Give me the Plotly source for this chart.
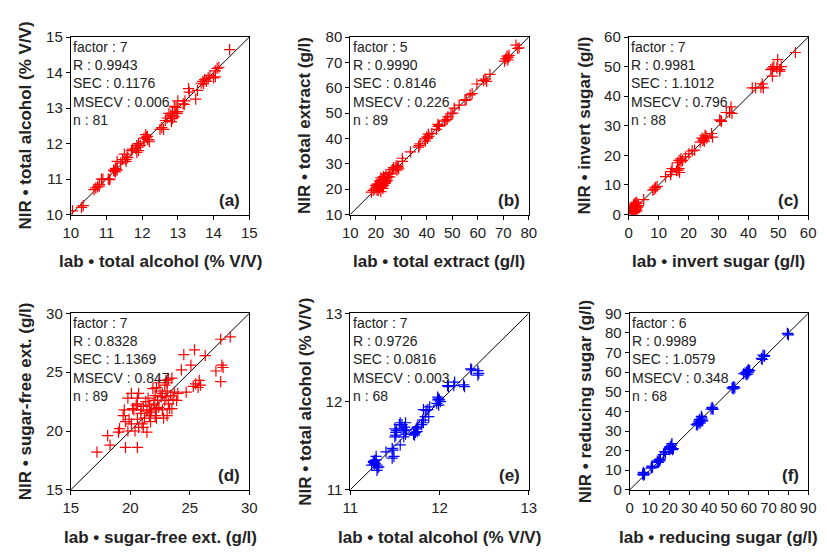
import plotly.graph_objects as go

W, H = 827, 555

# ---------------- data ----------------
lab_a = [14.45, 14.15, 14.1, 14.05, 14.0, 14.05, 13.9, 13.85, 13.75, 13.7, 13.65, 13.8, 13.72, 13.5, 13.55, 13.3,
         13.32, 13.2, 13.15, 13.18, 13.0, 12.95, 12.9, 12.95, 12.85, 13.0, 12.8, 12.75, 12.85, 12.9, 12.82, 12.65,
         12.7, 12.6, 12.55, 12.5, 12.2, 12.15, 12.1, 12.15, 12.05, 12.05, 12.2, 12.12, 11.95, 11.9, 11.85, 11.9,
         11.85, 11.88, 11.7, 11.6, 11.55, 11.5, 11.55, 11.58, 11.4, 11.3, 11.25, 11.25, 11.2, 11.3, 11.22, 11.1,
         11.05, 11.08, 10.9, 10.8, 10.8, 10.75, 10.7, 10.65, 10.35, 10.3, 10.05, 11.82, 11.73, 11.45, 11.27, 10.86, 12.98]
nir_a = [14.65, 14.15, 14.12, 14.05, 13.85, 13.88, 13.92, 13.85, 13.8, 13.75, 13.7, 13.75, 13.68, 13.25, 13.5, 13.55,
         13.45, 13.2, 13.12, 13.1, 13.2, 13.02, 13.05, 12.9, 12.85, 12.9, 12.8, 12.85, 12.7, 12.75, 12.62, 12.65,
         12.72, 12.4, 12.45, 12.4, 12.1, 12.2, 12.25, 12.12, 12.15, 12.05, 12.05, 12.18, 11.95, 12.0, 11.95, 11.8,
         11.75, 11.9, 11.8, 11.6, 11.55, 11.7, 11.5, 11.62, 11.45, 11.5, 11.3, 11.2, 11.25, 11.25, 11.22, 11.0,
         11.0, 10.98, 11.0, 10.85, 10.8, 10.78, 10.75, 10.7, 10.25, 10.2, 10.1, 11.86, 11.84, 11.55, 11.27, 11.0, 12.85]

lab_b = [75.0, 75.7, 76.2, 71.5, 72.0, 71.0, 70.5, 71.8, 72.3, 64.8, 62.9, 62.3, 63.5, 59.7, 57.8, 55.5, 55.0, 52.7,
         50.8, 50.2, 49.5, 48.3, 47.0, 47.5, 44.4, 45.0, 43.8, 42.0, 40.6, 40.0, 39.3, 40.3, 39.5, 37.4, 36.8, 37.0,
         33.6, 30.4, 28.5, 27.9, 29.0, 28.3, 26.6, 27.0, 25.3, 24.0, 24.5, 23.4, 22.8, 23.5, 21.5, 22.1, 22.5, 23.0,
         20.8, 21.5, 20.2, 21.0, 19.6, 18.3, 22.0, 20.5, 24.5, 25.0, 23.8, 22.0, 21.0, 23.0, 26.0, 24.0, 22.5, 20.0,
         21.8, 23.2, 28.8, 28.0, 19.0, 22.8, 25.5, 24.2, 21.2, 20.5, 23.5, 22.5, 57.0, 48.0, 40.8, 44.5, 30.5]
nir_b = [76.8, 75.5, 75.8, 72.5, 72.0, 71.5, 70.5, 71.0, 72.8, 65.3, 63.4, 62.8, 62.5, 61.5, 57.7, 55.3, 55.0, 53.2,
         52.0, 50.0, 49.8, 48.5, 46.8, 47.2, 45.6, 45.2, 43.6, 42.0, 41.7, 40.5, 39.8, 40.0, 39.0, 37.9, 36.6, 37.2,
         34.7, 32.2, 29.0, 28.3, 28.0, 27.5, 27.7, 28.5, 26.4, 25.8, 24.5, 24.5, 23.9, 23.0, 23.2, 22.0, 22.5, 21.5,
         21.3, 20.5, 20.7, 19.5, 20.0, 18.8, 19.0, 19.5, 23.5, 25.0, 22.5, 24.5, 22.0, 25.0, 26.0, 23.0, 21.0, 21.5,
         22.8, 23.8, 28.7, 29.2, 19.5, 20.3, 24.8, 24.8, 21.0, 22.0, 22.2, 23.5, 57.2, 47.5, 40.8, 44.8, 31.0]

lab_c = [55.7, 49.8, 48.0, 48.5, 47.5, 49.5, 50.5, 51.0, 48.0, 50.5, 44.6, 44.2, 41.3, 42.4, 45.0, 34.2, 33.7, 32.6,
         34.5, 30.4, 31.0, 30.8, 27.7, 28.0, 25.5, 26.1, 25.0, 24.5, 23.9, 25.3, 22.0, 21.2, 20.1, 19.0, 17.4, 16.8,
         17.5, 16.3, 18.0, 16.5, 16.8, 17.0, 14.5, 14.2, 14.0, 12.3, 9.5, 9.0, 8.5, 8.0, 5.0, 25.8, 24.8, 16.0, 8.8,
         2.5, 2.2, 1.8, 2.0, 2.8, 1.5, 1.2, 2.5, 1.0, 1.5, 2.0, 0.8, 1.3, 2.2, 1.7, 3.0, 2.8, 1.1, 2.4, 1.9, 1.6,
         0.9, 2.6, 1.4, 2.1, 3.2, 1.2, 2.7, 1.8, 1.0, 2.3, 1.5, 2.0]
nir_c = [54.8, 52.4, 49.5, 50.0, 49.0, 49.5, 49.0, 50.0, 46.8, 48.5, 44.2, 43.0, 42.8, 42.8, 42.8, 36.4, 34.5, 34.5,
         34.2, 32.0, 31.5, 31.8, 27.4, 26.2, 26.8, 25.8, 25.5, 25.8, 24.5, 24.8, 21.8, 21.5, 20.5, 19.5, 18.8, 18.3,
         17.8, 17.5, 18.3, 15.0, 15.5, 14.2, 15.5, 14.5, 13.5, 12.8, 9.5, 9.0, 8.5, 8.2, 5.0, 26.5, 25.0, 14.8, 9.2,
         4.2, 3.5, 3.0, 2.5, 2.8, 2.0, 1.5, 1.8, 1.0, 0.8, 1.2, 0.5, 0.3, 2.2, 1.4, 2.5, 3.8, 2.3, 1.0, 0.6, 3.3,
         1.8, 2.2, 1.1, 1.7, 3.0, 0.7, 1.5, 2.6, 0.2, 2.9, 1.6, 3.8]

lab_d = [28.4, 27.6, 25.4, 24.5, 26.3, 27.7, 27.2, 27.8, 27.6, 25.1, 24.3, 25.8, 25.5, 25.3, 25.7, 25.9, 24.7, 23.9,
         23.2, 23.5, 23.1, 22.9, 22.4, 22.2, 22.5, 23.1, 22.7, 23.7, 22.9, 23.2, 23.5, 23.1, 22.8, 22.2, 22.1, 21.6,
         21.8, 21.6, 21.3, 21.1, 20.9, 21.4, 20.7, 20.6, 20.5, 20.2, 20.3, 19.5, 19.4, 19.9, 19.6, 20.1, 20.6, 21.0,
         21.1, 21.4, 20.7, 19.1, 19.0, 18.1, 18.3, 19.6, 20.6, 17.2, 19.8, 20.1, 20.6, 22.0, 22.2, 22.7, 21.7, 22.0,
         23.0, 22.4, 21.5, 22.3, 23.4, 21.9, 23.6, 20.4, 21.2, 22.6, 24.0, 20.9, 22.1, 23.3, 21.7, 19.8, 23.0]
nir_d = [28.0, 27.8, 26.9, 26.5, 26.4, 25.6, 25.1, 25.4, 24.2, 25.6, 25.2, 24.3, 24.0, 23.8, 23.7, 23.9, 23.3, 22.6,
         24.4, 24.5, 24.1, 23.9, 24.1, 23.7, 23.4, 23.4, 23.2, 23.3, 22.6, 22.3, 21.9, 21.3, 21.1, 21.1, 21.3, 21.3,
         21.8, 22.2, 22.5, 22.1, 21.8, 21.7, 23.2, 22.8, 22.2, 21.9, 21.8, 21.8, 21.3, 21.0, 20.8, 20.6, 21.0, 20.6,
         20.3, 19.9, 20.3, 20.2, 19.9, 19.6, 18.8, 18.6, 18.6, 18.2, 22.8, 23.2, 22.3, 22.3, 21.9, 21.8, 20.8, 22.6,
         22.9, 22.0, 22.8, 22.6, 23.0, 23.6, 22.7, 20.0, 21.1, 22.9, 23.2, 21.5, 23.0, 21.9, 21.6, 20.0, 24.3]

lab_e = [12.35, 12.36, 12.43, 12.44, 12.43, 12.27, 12.28, 12.17, 12.16, 12.09, 12.10, 11.98, 11.98, 12.0, 11.99,
         11.97, 12.01, 11.89, 11.87, 11.88, 11.82, 11.84, 11.82, 11.8, 11.81, 11.75, 11.73, 11.71, 11.76, 11.74,
         11.72, 11.62, 11.58, 11.56, 11.58, 11.5, 11.51, 11.51, 11.62, 11.6, 11.63, 11.56, 11.47, 11.49, 11.47,
         11.4, 11.48, 11.29, 11.26, 11.27, 11.31, 11.3, 11.26, 11.29, 11.24, 11.28, 11.3, 11.6, 11.55, 11.5,
         11.52, 11.75, 11.99, 11.72, 11.27, 11.32, 11.85, 11.61]
nir_e = [12.37, 12.36, 12.35, 12.32, 12.30, 12.19, 12.17, 12.22, 12.18, 12.18, 12.17, 12.05, 12.02, 12.02, 11.96,
         11.98, 12.0, 11.94, 11.91, 11.83, 11.91, 11.83, 11.76, 11.74, 11.79, 11.71, 11.65, 11.63, 11.71, 11.69,
         11.62, 11.76, 11.74, 11.76, 11.69, 11.69, 11.65, 11.62, 11.63, 11.67, 11.68, 11.51, 11.47, 11.38, 11.36,
         11.43, 11.45, 11.34, 11.32, 11.29, 11.25, 11.22, 11.31, 11.38, 11.28, 11.3, 11.28, 11.6, 11.74, 11.6,
         11.67, 11.66, 12.03, 11.64, 11.33, 11.26, 11.9, 11.71]

lab_f = [79.5, 80.0, 67.2, 66.4, 67.8, 66.8, 59.8, 58.2, 57.4, 59.3, 60.5, 58.8, 60.0, 59.5, 52.5, 51.6, 53.0, 52.2,
         41.8, 42.0, 41.5, 36.1, 35.2, 36.4, 34.4, 33.6, 36.8, 35.0, 36.0, 34.0, 21.3, 20.5, 19.7, 21.0, 20.0, 21.5,
         20.8, 22.0, 17.7, 18.0, 17.0, 14.8, 13.9, 15.2, 14.5, 15.0, 11.1, 10.8, 11.5, 6.9, 7.0, 6.5, 7.5, 79.8,
         59.0, 52.0, 36.5, 35.5, 21.0, 14.0, 11.0, 7.2, 68.0, 60.2, 34.8, 20.3, 15.5, 41.0]
nir_f = [79.8, 79.0, 68.7, 67.0, 68.0, 66.5, 61.3, 59.7, 59.2, 60.5, 61.0, 58.8, 60.0, 59.0, 52.6, 52.0, 52.0, 51.5,
         41.6, 41.0, 42.0, 37.5, 35.9, 36.7, 33.8, 33.4, 35.2, 34.5, 35.0, 33.0, 23.6, 22.0, 21.1, 22.8, 20.5, 20.5,
         21.5, 21.0, 19.5, 18.8, 18.0, 15.4, 14.6, 14.8, 14.0, 15.0, 12.1, 11.0, 11.5, 8.9, 7.5, 8.0, 8.2, 79.5,
         60.0, 52.3, 36.0, 34.0, 21.2, 14.0, 11.5, 7.8, 68.5, 60.8, 35.0, 20.8, 15.8, 41.2]

x_titles = ["lab • total alcohol (% V/V)", "lab • total extract (g/l)", "lab • invert sugar (g/l)",
            "lab • sugar-free ext. (g/l)", "lab • total alcohol (% V/V)", "lab • reducing sugar (g/l)"]
y_titles = ["NIR • total alcohol (% V/V)", "NIR • total extract (g/l)", "NIR • invert sugar (g/l)",
            "NIR • sugar-free ext. (g/l)", "NIR • total alcohol (% V/V)", "NIR • reducing sugar (g/l)"]
panel_tags = ["(a)", "(b)", "(c)", "(d)", "(e)", "(f)"]
stats_factor = [7, 5, 7, 7, 7, 6]
stats_R = ["0.9943", "0.9990", "0.9981", "0.8328", "0.9726", "0.9989"]
stats_SEC = ["0.1176", "0.8146", "1.1012", "1.1369", "0.0816", "1.0579"]
stats_MSECV = ["0.006", "0.226", "0.796", "0.847", "0.003", "0.348"]
stats_n = [81, 89, 88, 89, 68, 68]
axis_ranges = [(10, 15), (10, 80), (0, 60), (15, 30), (11, 13), (0, 90)]
axis_dticks = [1, 10, 10, 5, 1, 10]
colors = ["#FF0000", "#FF0000", "#FF0000", "#FF0000", "#0000FF", "#0000FF"]

labs = [lab_a, lab_b, lab_c, lab_d, lab_e, lab_f]
nirs = [nir_a, nir_b, nir_c, nir_d, nir_e, nir_f]

# ---------------- layout geometry (pixels) ----------------
col_px = [(64, 246), (349, 531), (633, 816)]
col_px2 = [(64, 246), (349, 531), (634, 816)]
row_px = [(29, 212), (314, 496)]
ytitle_x = [[18, 303, 588], [18, 303, 589]]
xtitle_y = [260, 545]

FONT = "Arial, Liberation Sans, sans-serif"

fig = go.Figure()
layout = dict(width=W, height=H, margin=dict(l=0, r=0, t=0, b=0),
              paper_bgcolor="white", plot_bgcolor="white", showlegend=False)
annotations = []

for i in range(6):
    r, c = divmod(i, 3)
    xs = col_px2 if r == 1 else col_px
    x0, x1 = xs[c]
    y0, y1 = row_px[r]
    ax = "" if i == 0 else str(i + 1)
    lo, hi = axis_ranges[i]
    common = dict(range=[lo, hi], dtick=axis_dticks[i], tick0=lo, showline=True, mirror=True,
                  linecolor="#000", linewidth=1, ticks="outside", ticklen=4, tickcolor="#000",
                  showgrid=False, zeroline=False, tickangle=0,
                  tickfont=dict(family=FONT, size=15, color="#222"))
    layout["xaxis" + ax] = dict(domain=[x0 / W, x1 / W], anchor="y" + ax, **common)
    layout["yaxis" + ax] = dict(domain=[1 - y1 / H, 1 - y0 / H], anchor="x" + ax, **common)

    fig.add_trace(go.Scatter(x=[lo, hi], y=[lo, hi], mode="lines",
                             line=dict(color="#000", width=1), xaxis="x" + ax, yaxis="y" + ax,
                             hoverinfo="skip"))
    fig.add_trace(go.Scatter(x=labs[i], y=nirs[i], mode="markers", xaxis="x" + ax, yaxis="y" + ax,
                             marker=dict(symbol="cross-thin", size=8,
                                         line=dict(color=colors[i], width=1.2))))

    txt = (f"factor : {stats_factor[i]}<br>R : {stats_R[i]}<br>SEC : {stats_SEC[i]}"
           f"<br>MSECV : {stats_MSECV[i]}<br>n : {stats_n[i]}")
    annotations.append(dict(text=txt, xref=f"x{ax} domain", yref=f"y{ax} domain", x=0.003, y=1.0,
                            xanchor="left", yanchor="top", align="left", showarrow=False,
                            font=dict(family=FONT, size=14, color="#222")))
    annotations.append(dict(text=f"<b>{panel_tags[i]}</b>", xref=f"x{ax} domain", yref=f"y{ax} domain",
                            x=0.96, y=0.08, xanchor="right", yanchor="middle", showarrow=False,
                            font=dict(family=FONT, size=17, color="#222")))
    annotations.append(dict(text=f"<b>{x_titles[i]}</b>", xref="paper", yref="paper",
                            x=(x0 + x1) / 2 / W, y=1 - xtitle_y[r] / H, xanchor="center", yanchor="middle",
                            showarrow=False, font=dict(family=FONT, size=17, color="#222")))
    annotations.append(dict(text=f"<b>{y_titles[i]}</b>", xref="paper", yref="paper", textangle=-90,
                            x=ytitle_x[r][c] / W, y=1 - (y0 + y1) / 2 / H, xanchor="center",
                            yanchor="middle", showarrow=False,
                            font=dict(family=FONT, size=17, color="#222")))

layout["annotations"] = annotations
fig.update_layout(**layout)
fig.write_html("out.html", config={"displayModeBar": False},
               post_script="document.body.style.margin='0';document.body.style.overflow='hidden';")
